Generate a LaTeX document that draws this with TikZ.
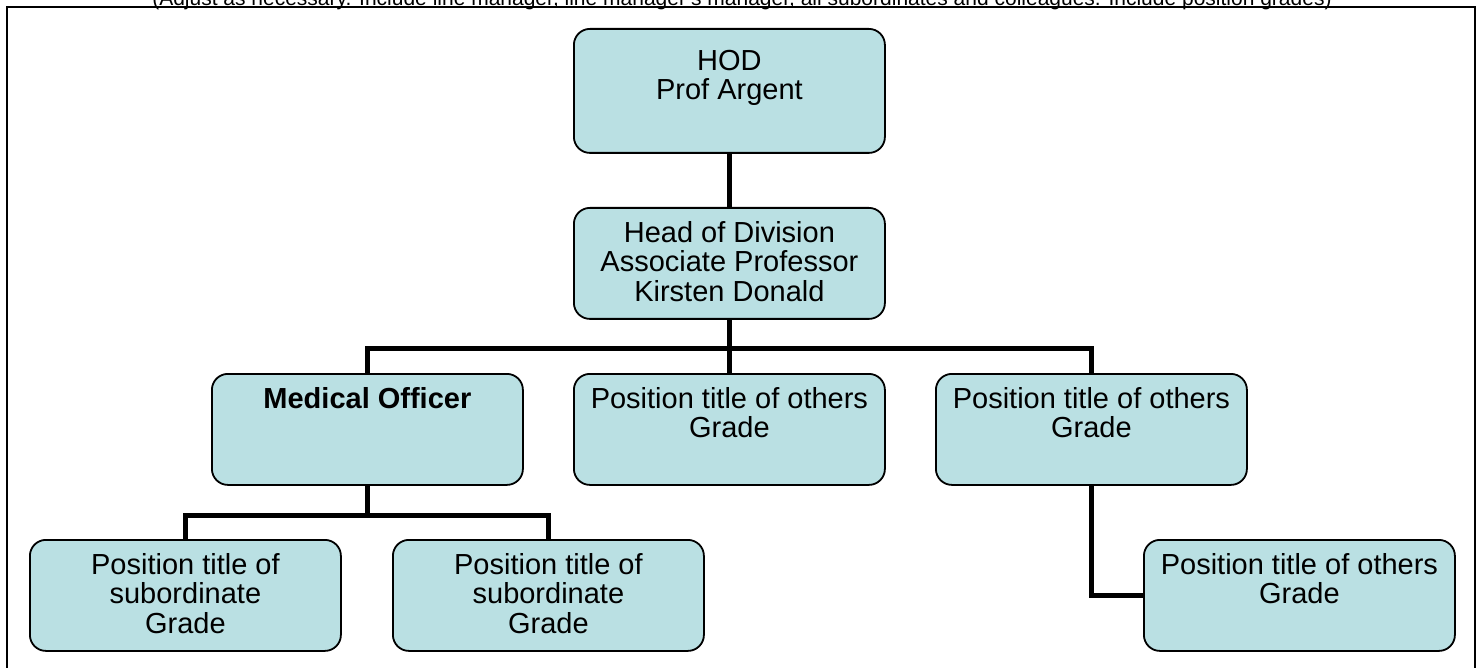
\documentclass[tikz,border=0pt]{standalone}
\usepackage{fontspec}
\setmainfont{Liberation Sans}
\definecolor{boxfill}{RGB}{186,224,227}
\begin{document}
\begin{tikzpicture}[x=1pt,y=-1pt,
  orgbox/.style={draw=black, line width=1.8pt, fill=boxfill, rounded corners=16pt,
    minimum width=311pt, minimum height=111pt, inner sep=0pt, anchor=north west},
  orgtxt/.style={align=center, font=\fontsize{29}{29.5}\selectfont, inner sep=0pt, anchor=north},
  conn/.style={draw=black, line width=5pt, line join=miter}]
\useasboundingbox (0,0) rectangle (1483,668);
% caption (cut by the top edge, as in the reference)
\node[font=\fontsize{21}{23}\selectfont, anchor=base, inner sep=0pt] (cap) at (742,6)
  {(Adjust as necessary. Include line manager, line manager's manager, all subordinates and colleagues. Include position grades)};
% frame
\draw[line width=2.5pt] (7,700) -- (7,7) -- (1475,7) -- (1475,700);
% boxes
\node[orgbox, minimum height=124pt] (hod) at (573,28) {};
\node[orgbox] (hd) at (573,207) {};
\node[orgbox] (mo) at (211,373) {};
\node[orgbox] (po1) at (573,373) {};
\node[orgbox] (po2) at (935,373) {};
\node[orgbox] (s1) at (29,539) {};
\node[orgbox] (s2) at (392,539) {};
\node[orgbox] (po3) at (1143,539) {};
% connectors
\coordinate (bar1) at (hd.south |- 0,348);
\coordinate (bar2) at (mo.south |- 0,515);
\draw[conn] (hod.south) -- (hd.north);
\draw[conn] (hd.south) -- (bar1);
\draw[conn] (mo.north) |- (po2.north |- bar1) -- (po2.north);
\draw[conn] (bar1) -- (po1.north);
\draw[conn] (mo.south) -- (bar2);
\draw[conn] (s1.north) |- (s2.north |- bar2) -- (s2.north);
\draw[conn] (po2.south) |- (po3.west);
% texts
\node[orgtxt] (thod) at ([yshift=-22pt]hod.north) {HOD\\Prof Argent};
\node[orgtxt] (thd) at ([yshift=-14pt]hd.north) {Head of Division\\Associate Professor\\Kirsten Donald};
\node[orgtxt, font=\fontsize{29}{29.5}\selectfont\bfseries] (tmo) at ([yshift=-14pt]mo.north) {Medical Officer};
\node[orgtxt] (tpo1) at ([yshift=-14pt]po1.north) {Position title of others\\Grade};
\node[orgtxt] (tpo2) at ([yshift=-14pt]po2.north) {Position title of others\\Grade};
\node[orgtxt] (ts1) at ([yshift=-14pt]s1.north) {Position title of\\subordinate\\Grade};
\node[orgtxt] (ts2) at ([yshift=-14pt]s2.north) {Position title of\\subordinate\\Grade};
\node[orgtxt] (tpo3) at ([yshift=-14pt]po3.north) {Position title of others\\Grade};
\end{tikzpicture}
\end{document}
